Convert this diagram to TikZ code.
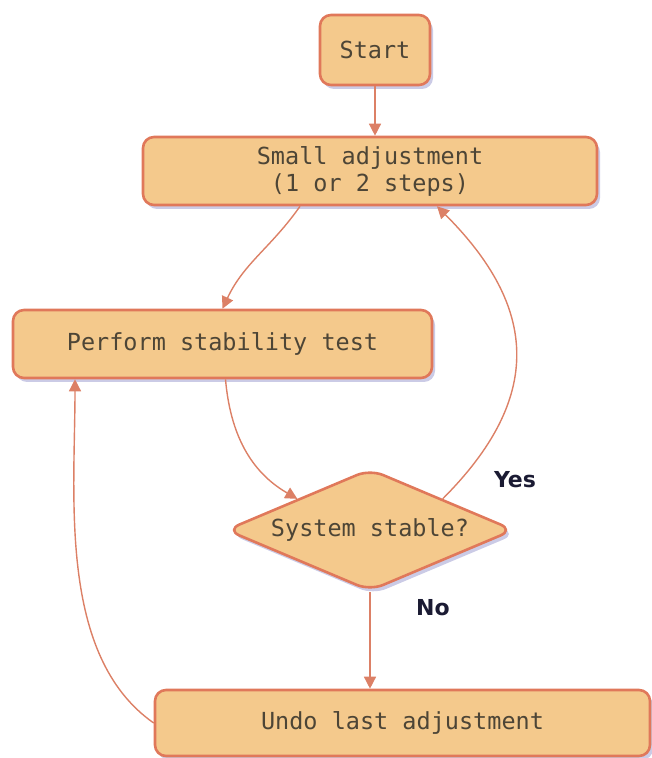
\documentclass[tikz,border=0pt]{standalone}
\usepackage{fontspec}
\setmainfont{DejaVu Sans}
\setmonofont{DejaVu Sans Mono}
\usetikzlibrary{shapes.geometric,arrows.meta,shadows}
\definecolor{boxfill}{HTML}{F4C98C}
\definecolor{boxline}{HTML}{E0785A}
\definecolor{arrowline}{HTML}{DC8066}
\definecolor{boxtext}{HTML}{4D4536}
\definecolor{labeltext}{HTML}{1B1B33}
\begin{document}
\begin{tikzpicture}[x=1pt,y=1pt,
  softshadow/.style={drop shadow={shadow xshift=3pt,shadow yshift=-4pt,opacity=0.3,fill=blue!35!gray}},
  flowbox/.style={draw=boxline,line width=2.6pt,fill=boxfill,rounded corners=11pt,
    softshadow,text=boxtext,font=\ttfamily\fontsize{23.5}{27}\selectfont,
    align=center,inner sep=0pt},
  decision/.style={diamond,draw=boxline,line width=2.6pt,fill=boxfill,rounded corners=14pt,
    softshadow,text=boxtext,font=\ttfamily\fontsize{23.5}{27}\selectfont,
    inner sep=0pt,minimum width=288pt,minimum height=122pt,aspect=2.37},
  flow/.style={draw=arrowline,line width=1.4pt,-{Triangle[length=12pt,width=12pt]}},
  answer/.style={text=labeltext,font=\bfseries\fontsize{22}{26}\selectfont}
]
\useasboundingbox (0,0) rectangle (651,758);

\node[flowbox,minimum width=110pt,minimum height=70pt] (start) at (375,708) {Start};
\node[flowbox,minimum width=454pt,minimum height=68pt] (small) at (370,587) {Small adjustment\\(1 or 2 steps)};
\node[flowbox,minimum width=419pt,minimum height=68pt] (perf) at (222.5,414) {Perform stability test};
\node[decision] (stable) at (370,228) {System stable?};
\node[flowbox,minimum width=495pt,minimum height=66pt] (undo) at (402.5,35) {Undo last adjustment};

\node[answer] (yes) at (515,278) {Yes};
\node[answer] (no) at (433,150) {No};

\draw[flow] (start.south) -- (start.south |- small.north);
\draw[flow] ([xshift=-70pt]small.south) to[out=235,in=65] (perf.north);
\draw[flow] ([xshift=3pt]perf.south) to[out=-85,in=150] (stable.north west);
\draw[flow] (stable.north east) to[out=45,in=-45,looseness=1.25] ([xshift=67pt]small.south);
\draw[flow] (stable.south) -- (stable.south |- undo.north);
\draw[flow] (undo.west) to[out=145,in=-90,looseness=0.85] ([xshift=-147.5pt]perf.south);
\end{tikzpicture}
\end{document}
